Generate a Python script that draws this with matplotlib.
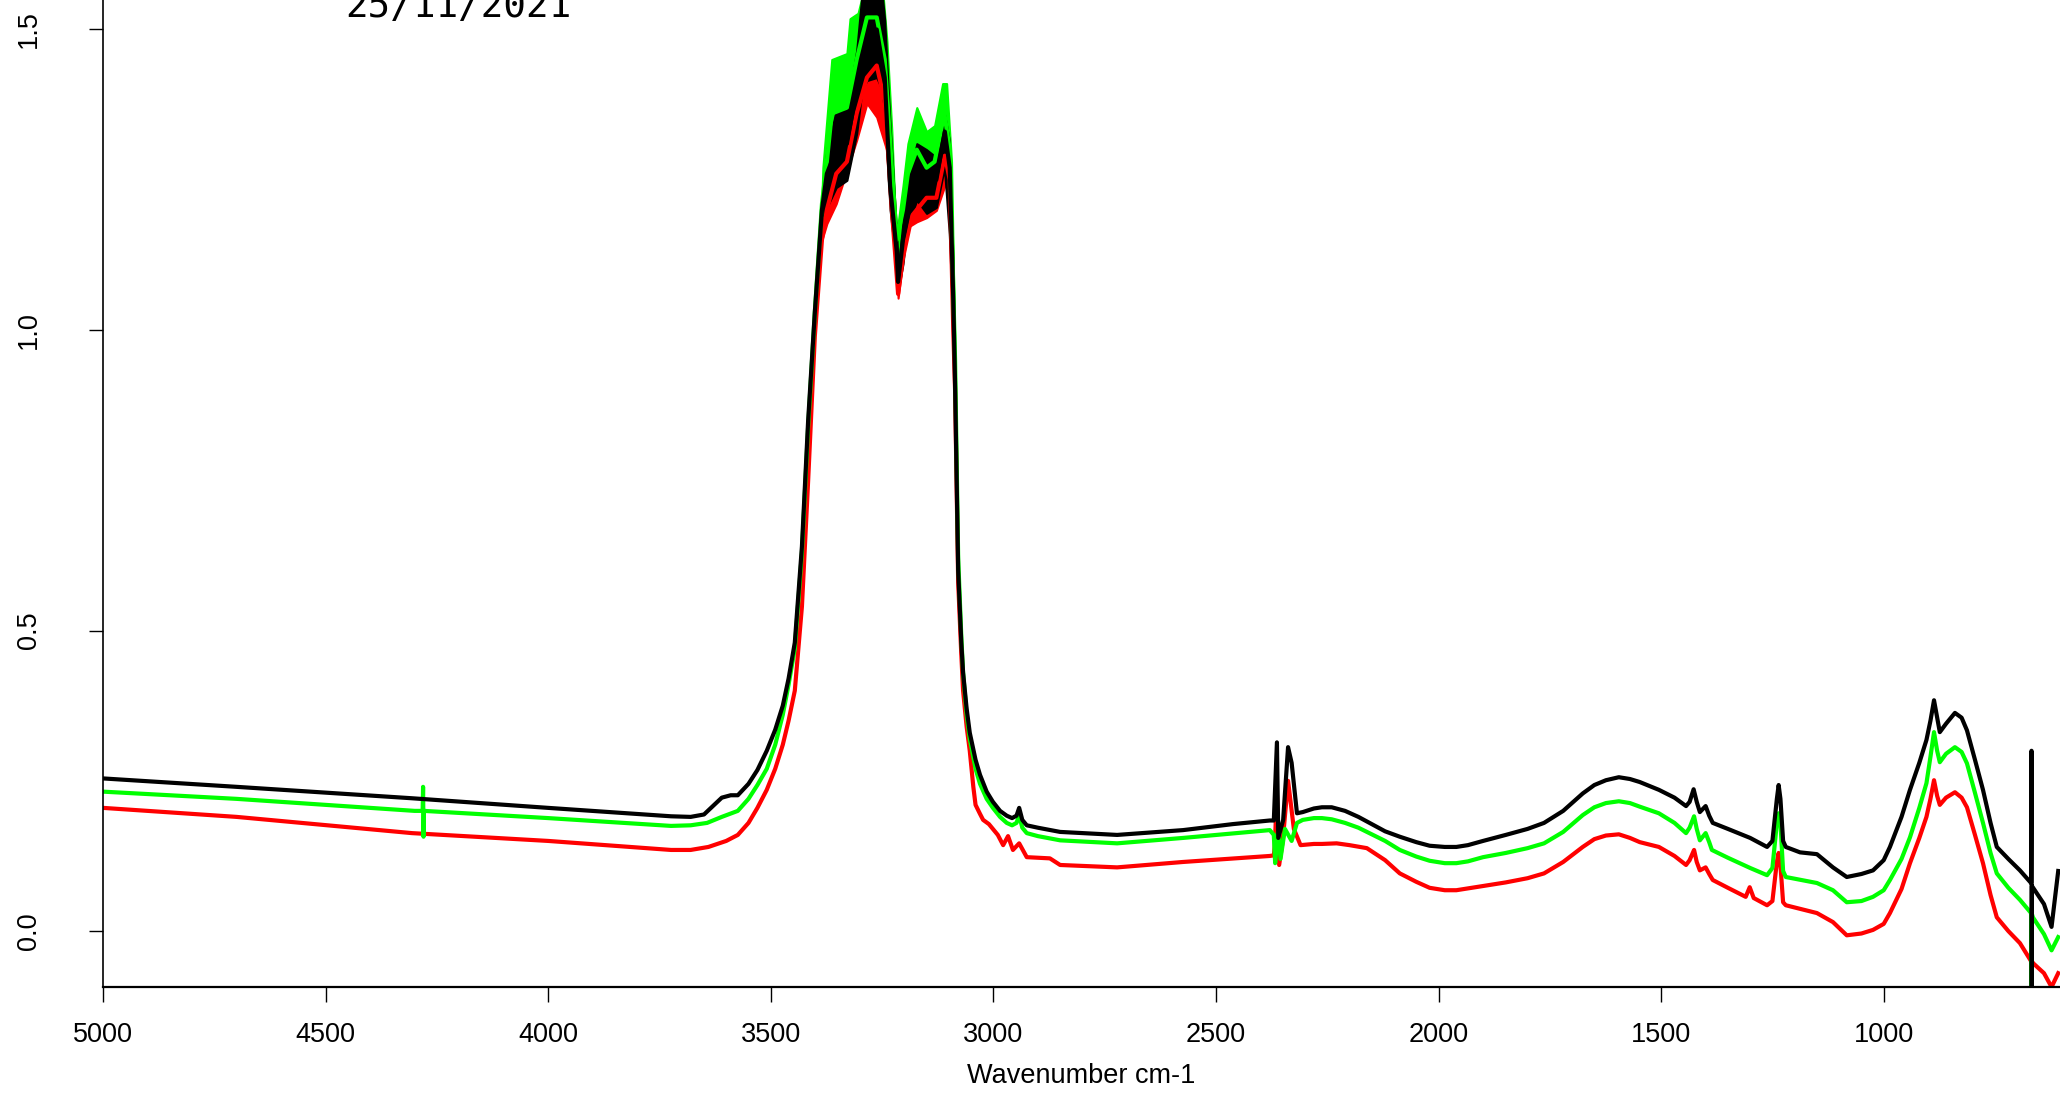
import numpy as np
import matplotlib
matplotlib.use("Agg")
import matplotlib.pyplot as plt

# spectra: (wavenumber cm-1, absorbance)
black = [(5000, 0.254), (4700, 0.240), (4306, 0.221), (4000, 0.205), (3724, 0.191), (3680, 0.190),
         (3650, 0.194), (3630, 0.208), (3610, 0.222), (3590, 0.226), (3574, 0.226), (3550, 0.245),
         (3530, 0.268), (3509, 0.300), (3490, 0.335), (3473, 0.375), (3460, 0.420), (3446, 0.480),
         (3430, 0.640), (3416, 0.850), (3401, 1.030), (3385, 1.200), (3374, 1.260), (3353, 1.300),
         (3329, 1.310), (3307, 1.400), (3284, 1.480), (3262, 1.500), (3244, 1.420), (3232, 1.240),
         (3217, 1.130), (3214, 1.080), (3203, 1.150), (3183, 1.220), (3165, 1.260), (3150, 1.250),
         (3128, 1.250), (3109, 1.330), (3098, 1.270), (3090, 1.050), (3086, 0.910), (3079, 0.600),
         (3072, 0.480), (3068, 0.430), (3060, 0.370), (3053, 0.330), (3040, 0.285), (3030, 0.260),
         (3015, 0.232), (3001, 0.215), (2985, 0.200), (2970, 0.192), (2958, 0.188), (2948, 0.192),
         (2942, 0.205), (2935, 0.185), (2925, 0.176), (2900, 0.172), (2850, 0.165), (2722, 0.160),
         (2574, 0.168), (2462, 0.178), (2379, 0.184), (2370, 0.184), (2363, 0.314), (2360, 0.155),
         (2349, 0.185), (2338, 0.306), (2330, 0.280), (2318, 0.196), (2305, 0.198), (2280, 0.204),
         (2262, 0.206), (2240, 0.206), (2210, 0.200), (2180, 0.190), (2150, 0.178), (2120, 0.166),
         (2087, 0.157), (2050, 0.148), (2020, 0.142), (1986, 0.140), (1960, 0.140), (1934, 0.143),
         (1900, 0.150), (1849, 0.160), (1800, 0.170), (1763, 0.180), (1720, 0.200), (1676, 0.229),
         (1650, 0.243), (1624, 0.251), (1595, 0.256), (1570, 0.253), (1548, 0.248), (1505, 0.235),
         (1470, 0.222), (1444, 0.208), (1436, 0.215), (1427, 0.236), (1420, 0.215), (1413, 0.198),
         (1400, 0.208), (1392, 0.192), (1384, 0.180), (1350, 0.170), (1300, 0.155), (1262, 0.140),
         (1250, 0.150), (1240, 0.220), (1236, 0.243), (1232, 0.220), (1226, 0.150), (1220, 0.140),
         (1188, 0.131), (1150, 0.128), (1114, 0.106), (1083, 0.090), (1050, 0.095), (1024, 0.101),
         (1000, 0.118), (986, 0.140), (960, 0.190), (941, 0.235), (920, 0.280), (904, 0.318),
         (895, 0.350), (887, 0.384), (880, 0.355), (874, 0.331), (860, 0.345), (840, 0.363),
         (825, 0.355), (813, 0.334), (795, 0.285), (777, 0.235), (760, 0.180), (746, 0.140),
         (720, 0.120), (694, 0.101), (669, 0.080), (668, 0.300), (667.5, -0.120), (667, 0.075),
         (640, 0.045), (623, 0.007), (608, 0.100)]

green = [(5000, 0.232), (4700, 0.220), (4300, 0.200), (4282, 0.200), (4281, 0.240), (4280, 0.157),
         (4279, 0.200), (4000, 0.188), (3724, 0.175), (3680, 0.176), (3643, 0.180), (3610, 0.190),
         (3574, 0.200), (3550, 0.220), (3530, 0.243), (3509, 0.270), (3490, 0.310), (3473, 0.360),
         (3460, 0.410), (3446, 0.470), (3430, 0.630), (3416, 0.840), (3401, 1.030), (3385, 1.210),
         (3374, 1.280), (3363, 1.360), (3329, 1.370), (3307, 1.450), (3284, 1.520), (3262, 1.520),
         (3244, 1.450), (3228, 1.270), (3217, 1.150), (3203, 1.200), (3192, 1.260), (3172, 1.300),
         (3150, 1.270), (3132, 1.280), (3110, 1.360), (3098, 1.300), (3086, 0.950), (3079, 0.620),
         (3072, 0.490), (3068, 0.430), (3060, 0.360), (3053, 0.320), (3040, 0.270), (3030, 0.245),
         (3015, 0.220), (3001, 0.205), (2985, 0.190), (2970, 0.180), (2958, 0.176), (2948, 0.180),
         (2942, 0.193), (2935, 0.172), (2925, 0.163), (2900, 0.158), (2850, 0.151), (2722, 0.146),
         (2574, 0.155), (2379, 0.168), (2370, 0.160), (2367, 0.113), (2360, 0.170), (2355, 0.120),
         (2345, 0.170), (2330, 0.150), (2318, 0.180), (2305, 0.185), (2280, 0.188), (2262, 0.188),
         (2240, 0.186), (2210, 0.180), (2180, 0.172), (2161, 0.165), (2120, 0.150), (2087, 0.135),
         (2050, 0.124), (2020, 0.117), (1986, 0.113), (1960, 0.113), (1934, 0.116), (1900, 0.123),
         (1849, 0.130), (1800, 0.138), (1763, 0.146), (1720, 0.165), (1676, 0.193), (1650, 0.206),
         (1624, 0.213), (1595, 0.216), (1570, 0.213), (1548, 0.207), (1505, 0.196), (1470, 0.180),
         (1444, 0.163), (1436, 0.172), (1426, 0.191), (1420, 0.170), (1413, 0.151), (1400, 0.163),
         (1392, 0.148), (1386, 0.135), (1350, 0.122), (1300, 0.105), (1262, 0.093), (1250, 0.105),
         (1240, 0.180), (1236, 0.196), (1232, 0.180), (1226, 0.100), (1220, 0.090), (1150, 0.080),
         (1114, 0.068), (1083, 0.048), (1050, 0.050), (1024, 0.057), (1000, 0.068), (986, 0.085),
         (960, 0.120), (941, 0.156), (920, 0.205), (904, 0.246), (895, 0.290), (887, 0.331),
         (880, 0.300), (874, 0.281), (860, 0.295), (840, 0.306), (825, 0.298), (813, 0.279),
         (795, 0.230), (777, 0.180), (760, 0.130), (746, 0.096), (720, 0.072), (694, 0.052),
         (669, 0.030), (668, -0.120), (667, 0.028), (665, 0.023), (640, -0.005), (623, -0.032),
         (608, -0.010)]

red = [(5000, 0.205), (4700, 0.190), (4306, 0.163), (4000, 0.150), (3724, 0.135), (3680, 0.135),
       (3640, 0.140), (3600, 0.150), (3574, 0.160), (3550, 0.180), (3530, 0.205), (3509, 0.235),
       (3490, 0.270), (3473, 0.310), (3460, 0.350), (3446, 0.400), (3430, 0.540), (3416, 0.750),
       (3401, 0.990), (3385, 1.150), (3374, 1.200), (3353, 1.260), (3329, 1.280), (3307, 1.360),
       (3284, 1.420), (3262, 1.440), (3244, 1.380), (3228, 1.200), (3214, 1.060), (3203, 1.120),
       (3183, 1.190), (3150, 1.220), (3128, 1.220), (3109, 1.290), (3098, 1.250), (3090, 1.000),
       (3086, 0.900), (3079, 0.580), (3072, 0.460), (3068, 0.400), (3060, 0.340), (3053, 0.300),
       (3045, 0.240), (3040, 0.210), (3030, 0.195), (3023, 0.185), (3010, 0.178), (3001, 0.170),
       (2990, 0.160), (2978, 0.143), (2967, 0.158), (2956, 0.135), (2942, 0.146), (2925, 0.123),
       (2873, 0.121), (2850, 0.110), (2722, 0.106), (2574, 0.115), (2379, 0.125), (2370, 0.126),
       (2368, 0.140), (2363, 0.230), (2358, 0.110), (2350, 0.150), (2338, 0.250), (2325, 0.170),
       (2310, 0.143), (2280, 0.145), (2262, 0.145), (2229, 0.146), (2200, 0.143), (2161, 0.138),
       (2120, 0.118), (2087, 0.096), (2050, 0.082), (2020, 0.072), (1986, 0.068), (1960, 0.068),
       (1934, 0.071), (1900, 0.075), (1849, 0.081), (1800, 0.088), (1763, 0.096), (1720, 0.115),
       (1676, 0.140), (1650, 0.153), (1624, 0.159), (1595, 0.161), (1570, 0.155), (1548, 0.148),
       (1505, 0.140), (1470, 0.125), (1444, 0.110), (1436, 0.118), (1426, 0.135), (1420, 0.115),
       (1413, 0.101), (1400, 0.106), (1392, 0.095), (1384, 0.085), (1350, 0.072), (1310, 0.057),
       (1301, 0.073), (1292, 0.055), (1262, 0.043), (1250, 0.050), (1240, 0.115), (1236, 0.130),
       (1232, 0.110), (1226, 0.048), (1220, 0.043), (1150, 0.030), (1114, 0.015), (1083, -0.007),
       (1050, -0.004), (1024, 0.002), (1000, 0.012), (986, 0.030), (960, 0.070), (941, 0.113),
       (920, 0.155), (904, 0.190), (895, 0.220), (887, 0.251), (880, 0.225), (874, 0.210),
       (860, 0.222), (840, 0.231), (825, 0.222), (813, 0.206), (795, 0.160), (777, 0.113),
       (760, 0.060), (746, 0.023), (720, 0.000), (694, -0.020), (669, -0.050), (668, -0.130),
       (667, -0.050), (665, -0.053), (640, -0.070), (623, -0.093), (608, -0.070)]

# noisy O-H band: (wavenumber, lower, upper) envelope of each trace
black_band = [(3385, 1.19, 1.21), (3374, 1.204, 1.30), (3353, 1.237, 1.365), (3329, 1.249, 1.365),
              (3307, 1.327, 1.465), (3295, 1.40, 1.56), (3284, 1.415, 1.56), (3262, 1.42, 1.56),
              (3250, 1.40, 1.56), (3244, 1.36, 1.515), (3232, 1.20, 1.34), (3217, 1.10, 1.16),
              (3214, 1.066, 1.10), (3203, 1.11, 1.18), (3194, 1.17, 1.237), (3172, 1.216, 1.31),
              (3150, 1.194, 1.30), (3128, 1.204, 1.287), (3110, 1.27, 1.36), (3099, 1.16, 1.316),
              (3090, 1.00, 1.10)]
green_band = [(3385, 1.20, 1.22), (3383, 1.22, 1.27), (3363, 1.27, 1.45), (3329, 1.28, 1.46),
              (3322, 1.30, 1.518), (3304, 1.36, 1.527), (3293, 1.42, 1.56), (3262, 1.45, 1.56),
              (3248, 1.42, 1.56), (3239, 1.35, 1.48), (3228, 1.22, 1.33), (3221, 1.13, 1.20),
              (3217, 1.10, 1.16), (3203, 1.15, 1.24), (3192, 1.20, 1.31), (3172, 1.24, 1.37),
              (3150, 1.21, 1.33), (3132, 1.22, 1.34), (3114, 1.28, 1.41), (3105, 1.28, 1.41),
              (3094, 1.20, 1.28), (3087, 0.95, 0.99)]
red_band = [(3385, 1.15, 1.17), (3374, 1.177, 1.24), (3353, 1.21, 1.30), (3307, 1.316, 1.40),
            (3284, 1.377, 1.46), (3262, 1.354, 1.48), (3240, 1.30, 1.44), (3222, 1.149, 1.20),
            (3214, 1.053, 1.08), (3194, 1.17, 1.20), (3172, 1.18, 1.25), (3150, 1.187, 1.27),
            (3128, 1.199, 1.28), (3105, 1.249, 1.33), (3095, 1.16, 1.28)]

x_ticks = [5000, 4500, 4000, 3500, 3000, 2500, 2000, 1500, 1000]
y_ticks = [0.0, 0.5, 1.0, 1.5]
date_text = "25/11/2021"

fig = plt.figure(figsize=(20.6, 10.96), dpi=100)
ax = fig.add_axes([103 / 2060, 1 - 987 / 1096, 1 - 103 / 2060, 987 / 1096])

series = [(red, red_band, "#ff0000"), (green, green_band, "#00ff00"), (black, black_band, "#000000")]
for pts, band, col in series:
    wn, ab = np.array(pts).T
    bwn, lo, hi = np.array(band).T
    ax.fill_between(bwn, lo, hi, color=col, lw=1.5, edgecolor=col)
    ax.plot(wn, ab, color=col, lw=3.0, solid_joinstyle="round")

ax.set_xlim(5000, 604)
ax.set_ylim(-0.093, 1.549)
ax.set_xticks(x_ticks)
ax.set_xticklabels([str(v) for v in x_ticks])
ax.set_yticks(y_ticks)
ax.set_yticklabels(["%.1f" % v for v in y_ticks])

ax.spines["top"].set_visible(False)
ax.spines["right"].set_visible(False)
ax.spines["bottom"].set_linewidth(1.6)
ax.spines["left"].set_linewidth(1.2)

tick_font = "Liberation Sans"
ax.tick_params(axis="x", direction="out", length=11, width=1, pad=14, labelsize=19.5)
ax.tick_params(axis="y", direction="out", length=10, width=1, pad=34, labelsize=19.5,
               labelrotation=90)
for lab in ax.get_xticklabels() + ax.get_yticklabels():
    lab.set_fontfamily(tick_font)
for lab in ax.get_yticklabels():
    lab.set_verticalalignment("center")

ax.set_xlabel("Wavenumber cm-1", fontsize=19.5, fontfamily=tick_font, labelpad=11)

fig.text(458 / 2060, 1 - 17 / 1096, date_text, ha="center", va="baseline",
         fontsize=27, fontfamily="DejaVu Sans Mono")

fig.savefig("out.png", dpi=100)
